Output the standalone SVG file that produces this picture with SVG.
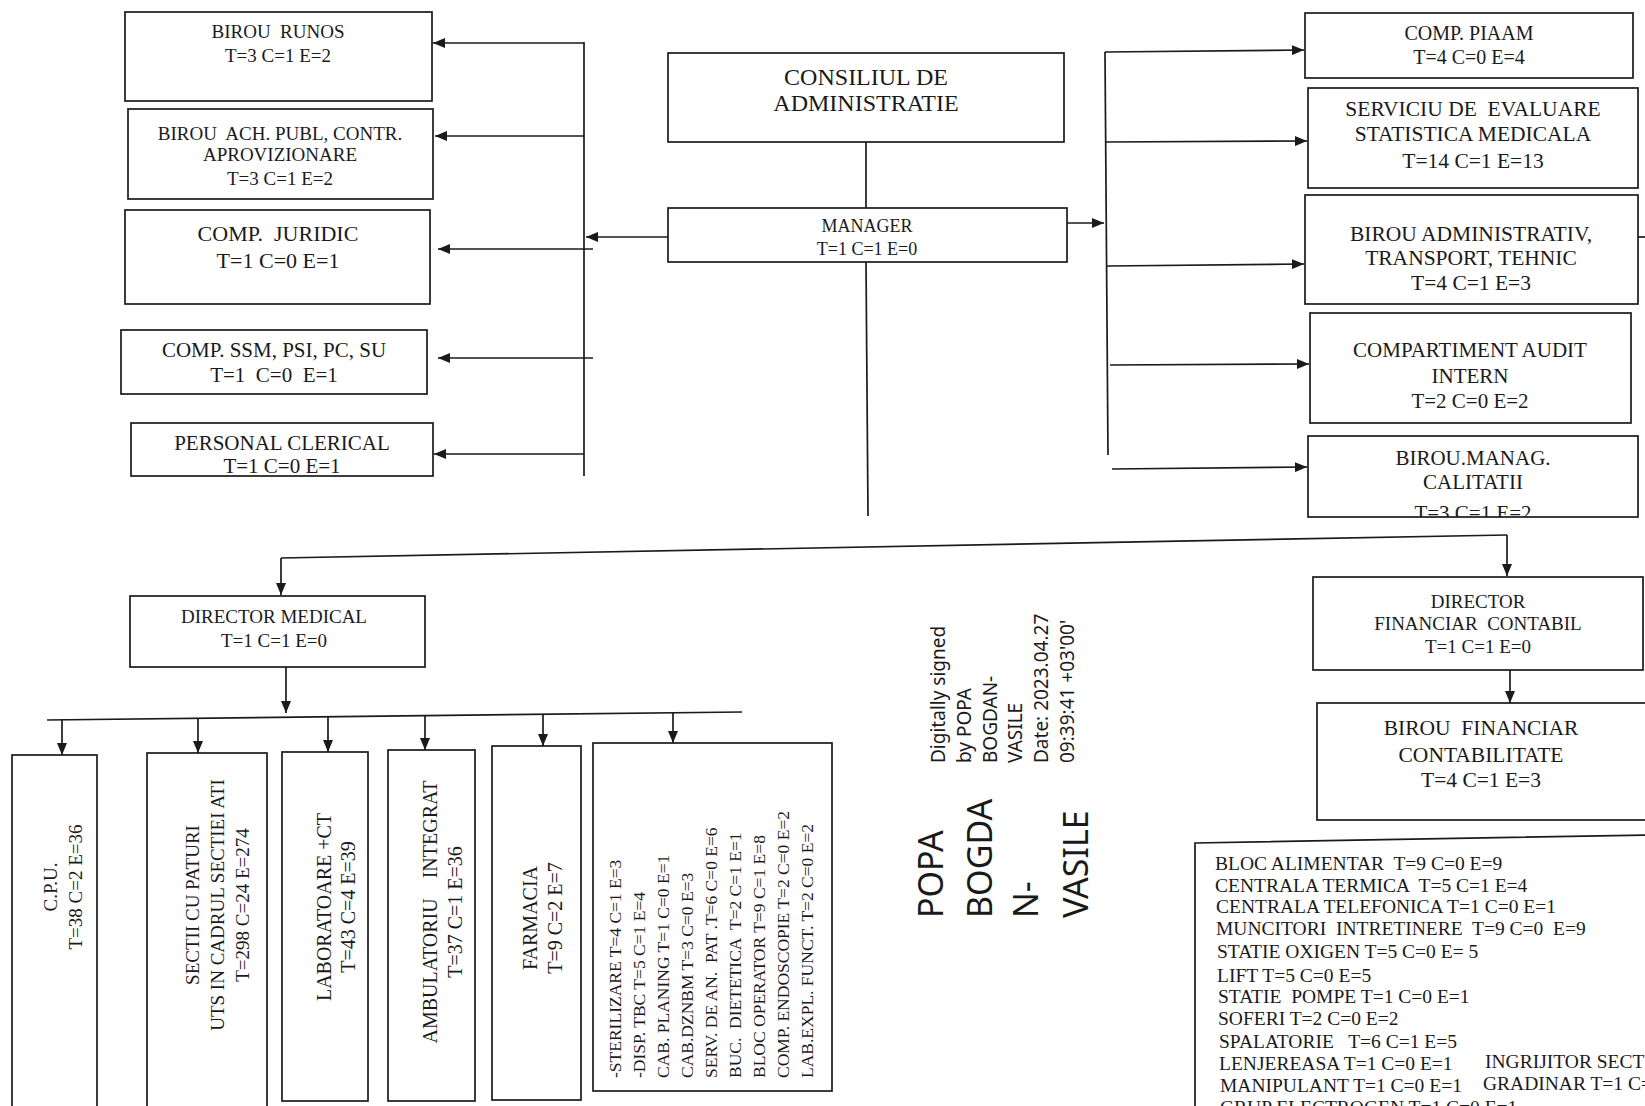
<svg xmlns="http://www.w3.org/2000/svg" width="1645" height="1106" viewBox="0 0 1645 1106">
<style>
.box{fill:#fff;stroke:#1a1a1a;stroke-width:1.7}
.ln{fill:none;stroke:#1a1a1a;stroke-width:1.7}
.t{font-family:"Liberation Serif","Times New Roman",serif;fill:#1a1a1a;text-anchor:middle;white-space:pre}
.l{font-family:"Liberation Serif","Times New Roman",serif;fill:#1a1a1a;text-anchor:start;white-space:pre}
.sig{font-family:"Noto Sans","Open Sans",sans-serif;fill:#1a1a1a;text-anchor:start}
</style>
<defs>
<marker id="ah" viewBox="0 0 12 10" refX="12" refY="5" markerWidth="12" markerHeight="10" orient="auto" markerUnits="userSpaceOnUse"><path d="M0,0 L12,5 L0,10 z" fill="#1a1a1a"/></marker>
<clipPath id="clipCal"><rect x="1308" y="436" width="330" height="81"/></clipPath>
</defs>
<rect width="1645" height="1106" fill="#fff"/>

<g id="connectors">
<path class="ln" d="M584,42 V476"/>
<path class="ln" d="M584,43 H433" marker-end="url(#ah)"/>
<path class="ln" d="M584,136 H435" marker-end="url(#ah)"/>
<path class="ln" d="M593,249 H438" marker-end="url(#ah)"/>
<path class="ln" d="M593,358 H438" marker-end="url(#ah)"/>
<path class="ln" d="M584,454 H434" marker-end="url(#ah)"/>
<path class="ln" d="M668,237 H586" marker-end="url(#ah)"/>
<path class="ln" d="M866,142 V208"/>
<path class="ln" d="M866,262 L868,516"/>
<path class="ln" d="M1067,223 H1104" marker-end="url(#ah)"/>
<path class="ln" d="M1105,52 L1108,455"/>
<path class="ln" d="M1105,52 L1304,50" marker-end="url(#ah)"/>
<path class="ln" d="M1106,142 L1307,141" marker-end="url(#ah)"/>
<path class="ln" d="M1107,266 L1304,264" marker-end="url(#ah)"/>
<path class="ln" d="M1110,365 L1309,364" marker-end="url(#ah)"/>
<path class="ln" d="M1112,469 L1307,467" marker-end="url(#ah)"/>
<path class="ln" d="M1638,237 H1645"/>
<path class="ln" d="M281,558 L1507,535"/>
<path class="ln" d="M281,558 V595" marker-end="url(#ah)"/>
<path class="ln" d="M1507,535 V576" marker-end="url(#ah)"/>
<path class="ln" d="M286,667 V713" marker-end="url(#ah)"/>
<path class="ln" d="M47,720 L742,712"/>
<path class="ln" d="M62,719 V755" marker-end="url(#ah)"/>
<path class="ln" d="M198,718 V753" marker-end="url(#ah)"/>
<path class="ln" d="M328,717 V752" marker-end="url(#ah)"/>
<path class="ln" d="M425,716 V750" marker-end="url(#ah)"/>
<path class="ln" d="M543,714 V746" marker-end="url(#ah)"/>
<path class="ln" d="M673,713 V743" marker-end="url(#ah)"/>
<path class="ln" d="M1510,670 V703" marker-end="url(#ah)"/>
</g>

<g id="birou-runos">
<rect class="box" x="125" y="12" width="307" height="89"/>
<text class="t" font-size="19" x="278" y="38">BIROU  RUNOS</text>
<text class="t" font-size="19" x="278" y="62">T=3 C=1 E=2</text>
</g>
<g id="birou-ach">
<rect class="box" x="128" y="109" width="305" height="90"/>
<text class="t" font-size="19" x="280" y="140">BIROU  ACH. PUBL, CONTR.</text>
<text class="t" font-size="19" x="280" y="161">APROVIZIONARE</text>
<text class="t" font-size="19" x="280" y="185">T=3 C=1 E=2</text>
</g>
<g id="comp-juridic">
<rect class="box" x="125" y="210" width="305" height="94"/>
<text class="t" font-size="22" x="278" y="241">COMP.  JURIDIC</text>
<text class="t" font-size="22" x="278" y="268">T=1 C=0 E=1</text>
</g>
<g id="comp-ssm">
<rect class="box" x="121" y="330" width="306" height="64"/>
<text class="t" font-size="21" x="274" y="357">COMP. SSM, PSI, PC, SU</text>
<text class="t" font-size="21" x="274" y="382">T=1  C=0  E=1</text>
</g>
<g id="personal-clerical">
<rect class="box" x="131" y="423" width="302" height="53"/>
<text class="t" font-size="21" x="282" y="450">PERSONAL CLERICAL</text>
<text class="t" font-size="21" x="282" y="473">T=1 C=0 E=1</text>
</g>

<g id="consiliul">
<rect class="box" x="668" y="53" width="396" height="89"/>
<text class="t" font-size="24" x="866" y="85">CONSILIUL DE</text>
<text class="t" font-size="24" x="866" y="111">ADMINISTRATIE</text>
</g>
<g id="manager">
<rect class="box" x="668" y="208" width="399" height="54"/>
<text class="t" font-size="18" x="867" y="232">MANAGER</text>
<text class="t" font-size="18" x="867" y="255">T=1 C=1 E=0</text>
</g>

<g id="comp-piaam">
<rect class="box" x="1305" y="13" width="328" height="65"/>
<text class="t" font-size="20" x="1469" y="40">COMP. PIAAM</text>
<text class="t" font-size="20" x="1469" y="64">T=4 C=0 E=4</text>
</g>
<g id="serviciu-evaluare">
<rect class="box" x="1308" y="88" width="330" height="100"/>
<text class="t" font-size="21.5" x="1473" y="116">SERVICIU DE  EVALUARE</text>
<text class="t" font-size="21.5" x="1473" y="141">STATISTICA MEDICALA</text>
<text class="t" font-size="21.5" x="1473" y="168">T=14 C=1 E=13</text>
</g>
<g id="birou-administrativ">
<rect class="box" x="1305" y="195" width="333" height="109"/>
<text class="t" font-size="21.5" x="1471" y="241">BIROU ADMINISTRATIV,</text>
<text class="t" font-size="21.5" x="1471" y="265">TRANSPORT, TEHNIC</text>
<text class="t" font-size="21.5" x="1471" y="290">T=4 C=1 E=3</text>
</g>
<g id="audit-intern">
<rect class="box" x="1310" y="313" width="321" height="110"/>
<text class="t" font-size="21" x="1470" y="357">COMPARTIMENT AUDIT</text>
<text class="t" font-size="21" x="1470" y="383">INTERN</text>
<text class="t" font-size="21" x="1470" y="408">T=2 C=0 E=2</text>
</g>
<g id="birou-calitatii">
<rect class="box" x="1308" y="436" width="330" height="81"/>
<text class="t" font-size="21" x="1473" y="465">BIROU.MANAG.</text>
<text class="t" font-size="21" x="1473" y="489">CALITATII</text>
<text class="t" font-size="21" x="1473" y="520" clip-path="url(#clipCal)">T=3 C=1 E=2</text>
</g>

<g id="director-medical">
<rect class="box" x="130" y="596" width="295" height="71"/>
<text class="t" font-size="19" x="274" y="623">DIRECTOR MEDICAL</text>
<text class="t" font-size="19" x="274" y="647">T=1 C=1 E=0</text>
</g>
<g id="director-financiar">
<rect class="box" x="1313" y="577" width="330" height="93"/>
<text class="t" font-size="19" x="1478" y="608">DIRECTOR</text>
<text class="t" font-size="19" x="1478" y="630">FINANCIAR  CONTABIL</text>
<text class="t" font-size="19" x="1478" y="653">T=1 C=1 E=0</text>
</g>
<g id="birou-financiar">
<rect class="box" x="1317" y="703" width="335" height="117"/>
<text class="t" font-size="21.5" x="1481" y="735">BIROU  FINANCIAR</text>
<text class="t" font-size="21.5" x="1481" y="762">CONTABILITATE</text>
<text class="t" font-size="21.5" x="1481" y="787">T=4 C=1 E=3</text>
</g>

<g id="cpu">
<rect class="box" x="12" y="755" width="85" height="360"/>
<text class="t" font-size="19" transform="translate(57,887) rotate(-90)">C.P.U.</text>
<text class="t" font-size="19" transform="translate(82,887) rotate(-90)">T=38 C=2 E=36</text>
</g>
<g id="sectii">
<rect class="box" x="147" y="753" width="120" height="360"/>
<text class="t" font-size="19" transform="translate(199,905) rotate(-90)">SECTII CU PATURI</text>
<text class="t" font-size="19" transform="translate(224,905) rotate(-90)">UTS IN CADRUL SECTIEI ATI</text>
<text class="t" font-size="19" transform="translate(249,905) rotate(-90)">T=298 C=24 E=274</text>
</g>
<g id="laboratoare">
<rect class="box" x="282" y="752" width="86" height="349"/>
<text class="t" font-size="20" transform="translate(331,907) rotate(-90)">LABORATOARE +CT</text>
<text class="t" font-size="20" transform="translate(355,907) rotate(-90)">T=43 C=4 E=39</text>
</g>
<g id="ambulatoriu">
<rect class="box" x="388" y="750" width="87" height="351"/>
<text class="t" font-size="20" transform="translate(437,912) rotate(-90)">AMBULATORIU    INTEGRAT</text>
<text class="t" font-size="20" transform="translate(462,912) rotate(-90)">T=37 C=1 E=36</text>
</g>
<g id="farmacia">
<rect class="box" x="492" y="746" width="89" height="354"/>
<text class="t" font-size="20" transform="translate(537,918) rotate(-90)">FARMACIA</text>
<text class="t" font-size="20" transform="translate(562,918) rotate(-90)">T=9 C=2 E=7</text>
</g>
<g id="alte-compartimente">
<rect class="box" x="593" y="743" width="239" height="348"/>
<text class="l" font-size="17.5" transform="translate(621,1078) rotate(-90)">-STERILIZARE T=4 C=1 E=3</text>
<text class="l" font-size="17.5" transform="translate(645,1078) rotate(-90)">-DISP. TBC T=5 C=1 E=4</text>
<text class="l" font-size="17.5" transform="translate(669,1078) rotate(-90)">CAB. PLANING T=1 C=0 E=1</text>
<text class="l" font-size="17.5" transform="translate(693,1078) rotate(-90)">CAB.DZNBM T=3 C=0 E=3</text>
<text class="l" font-size="17.5" transform="translate(717,1078) rotate(-90)">SERV. DE AN.  PAT .T=6 C=0 E=6</text>
<text class="l" font-size="17.5" transform="translate(741,1078) rotate(-90)">BUC.  DIETETICA  T=2 C=1 E=1</text>
<text class="l" font-size="17.5" transform="translate(765,1078) rotate(-90)">BLOC OPERATOR T=9 C=1 E=8</text>
<text class="l" font-size="17.5" transform="translate(789,1078) rotate(-90)">COMP. ENDOSCOPIE T=2 C=0 E=2</text>
<text class="l" font-size="17.5" transform="translate(813,1078) rotate(-90)">LAB.EXPL. FUNCT. T=2 C=0 E=2</text>
</g>

<g id="semnatura">
<text class="sig" font-size="34" transform="translate(943,918) rotate(-90)">POPA</text>
<text class="sig" font-size="34" transform="translate(992,918) rotate(-90)">BOGDA</text>
<text class="sig" font-size="34" transform="translate(1038,918) rotate(-90)">N-</text>
<text class="sig" font-size="34" transform="translate(1088,918) rotate(-90)">VASILE</text>
<text class="sig" font-size="19" transform="translate(945,763) rotate(-90)">Digitally signed</text>
<text class="sig" font-size="19" transform="translate(971,763) rotate(-90)">by POPA</text>
<text class="sig" font-size="19" transform="translate(997,763) rotate(-90)">BOGDAN-</text>
<text class="sig" font-size="19" transform="translate(1022,763) rotate(-90)">VASILE</text>
<text class="sig" font-size="19" transform="translate(1048,763) rotate(-90)">Date: 2023.04.27</text>
<text class="sig" font-size="19" transform="translate(1074,763) rotate(-90)">09:39:41 +03'00'</text>
</g>

<g id="servicii-tehnice">
<path class="box" d="M1195,1110 V843 L1650,835 V1110"/>
<text class="l" font-size="19.5" x="1215" y="870">BLOC ALIMENTAR  T=9 C=0 E=9</text>
<text class="l" font-size="19.5" x="1215" y="892">CENTRALA TERMICA  T=5 C=1 E=4</text>
<text class="l" font-size="19.5" x="1216" y="913">CENTRALA TELEFONICA T=1 C=0 E=1</text>
<text class="l" font-size="19.5" x="1216" y="935">MUNCITORI  INTRETINERE  T=9 C=0  E=9</text>
<text class="l" font-size="19.5" x="1217" y="958">STATIE OXIGEN T=5 C=0 E= 5</text>
<text class="l" font-size="19.5" x="1217" y="982">LIFT T=5 C=0 E=5</text>
<text class="l" font-size="19.5" x="1218" y="1003">STATIE  POMPE T=1 C=0 E=1</text>
<text class="l" font-size="19.5" x="1218" y="1025">SOFERI T=2 C=0 E=2</text>
<text class="l" font-size="19.5" x="1219" y="1048">SPALATORIE   T=6 C=1 E=5</text>
<text class="l" font-size="19.5" x="1219" y="1070">LENJEREASA T=1 C=0 E=1</text>
<text class="l" font-size="19.5" x="1485" y="1068">INGRIJITOR SECT</text>
<text class="l" font-size="19.5" x="1220" y="1092">MANIPULANT T=1 C=0 E=1</text>
<text class="l" font-size="19.5" x="1483" y="1090">GRADINAR T=1 C=</text>
<text class="l" font-size="19.5" x="1220" y="1114">GRUP ELECTROGEN T=1 C=0 E=1</text>
</g>
</svg>
